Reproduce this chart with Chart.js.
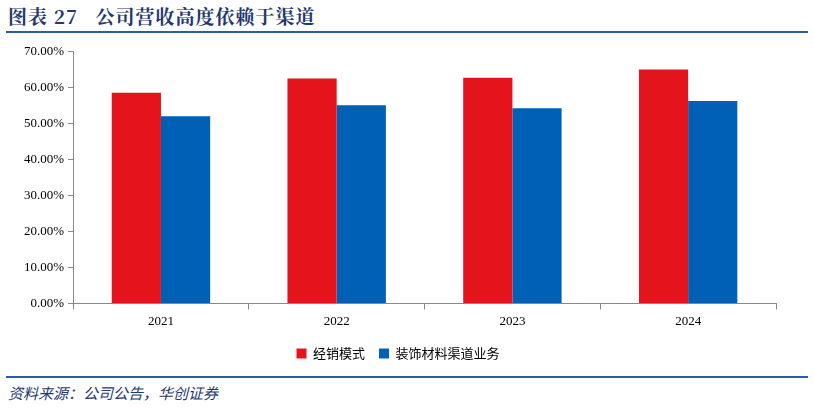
<!DOCTYPE html>
<html><head><meta charset="utf-8">
<script src="https://cdn.jsdelivr.net/npm/chart.js@4"></script>
<style>
body{margin:0;width:814px;height:408px;background:#fff;position:relative;overflow:hidden;font-family:"Noto Sans CJK SC";}
#title{position:absolute;left:8px;top:2px;font-size:19px;font-weight:bold;color:#1F3A6E;font-family:"Noto Serif CJK SC","Noto Sans CJK SC";letter-spacing:1px}
#line1{position:absolute;left:6px;right:6px;top:31px;height:2px;background:#2A5CA8}
#line2{position:absolute;left:6px;right:6px;top:376px;height:2px;background:#2A5CA8}
#src{position:absolute;left:8px;top:382px;font-size:15px;font-style:italic;color:#1F3A6E}
#wrap{position:absolute;left:0;top:40px;width:814px;height:330px}
</style></head><body>
<div id="title">图表 27&nbsp;&nbsp;&nbsp;公司营收高度依赖于渠道</div>
<div id="line1"></div>
<div id="wrap"><canvas id="myChart"></canvas></div>
<div id="line2"></div>
<div id="src">资料来源：公司公告，华创证券</div>
<script>
var years = ['2021', '2022', '2023', '2024'];
var dealerShare = [58.6, 62.6, 62.8, 65.1];
var channelShare = [52.1, 55.1, 54.3, 56.3];
var yTicks = [0, 10, 20, 30, 40, 50, 60, 70];

var ctx = document.getElementById('myChart').getContext('2d');
var myChart = new Chart(ctx, {
    type: 'bar',
    data: {
        labels: years,
        datasets: [{
            label: '经销模式',
            data: dealerShare,
            backgroundColor: '#E3141C'
        }, {
            label: '装饰材料渠道业务',
            data: channelShare,
            backgroundColor: '#0060B6'
        }]
    },
    options: {
        responsive: true,
        maintainAspectRatio: false,
        animation: false,
        layout: {padding: {left: 20, right: 38, top: 10, bottom: 0}},
        categoryPercentage: 0.56,
        barPercentage: 1,
        plugins: {
            legend: {
                position: 'bottom',
                labels: {boxWidth: 10, boxHeight: 10, padding: 14, color: '#000',
                    font: {family: 'Noto Sans CJK SC', size: 13}}
            },
            tooltip: {enabled: false}
        },
        scales: {
            x: {
                grid: {drawOnChartArea: false, offset: true, color: '#888', tickLength: 6},
                border: {color: '#888'},
                ticks: {color: '#000', padding: 4, font: {family: 'Liberation Serif', size: 13}}
            },
            y: {
                min: 0, max: 70,
                afterBuildTicks: function (axis) { axis.ticks = yTicks.map(function (v) { return {value: v}; }); },
                grid: {drawOnChartArea: false, color: '#888', tickLength: 5},
                border: {color: '#888'},
                ticks: {color: '#000', padding: 4, font: {family: 'Liberation Serif', size: 13},
                    callback: function (v) { return v.toFixed(2) + '%'; }}
            }
        }
    }
});
</script>
</body></html>
